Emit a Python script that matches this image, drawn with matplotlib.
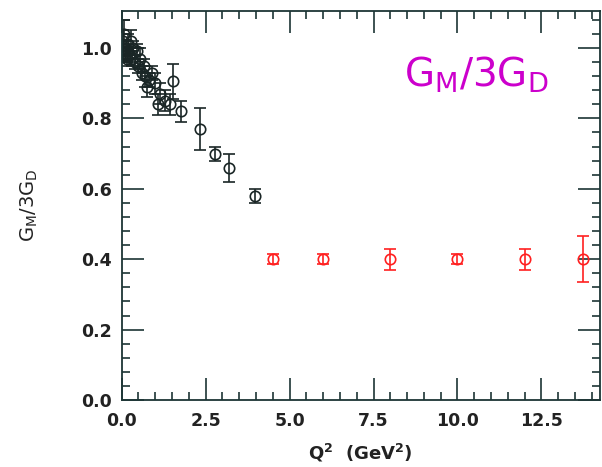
import matplotlib
matplotlib.use("Agg")
import matplotlib.pyplot as plt
from matplotlib.ticker import MultipleLocator, FormatStrFormatter

# Low-Q^2 measurements (black)
q2_low = [0.03, 0.05, 0.07, 0.10, 0.12, 0.15, 0.18, 0.20, 0.25, 0.28, 0.30,
          0.35, 0.40, 0.45, 0.50, 0.55, 0.60, 0.65, 0.70, 0.75, 0.80, 0.90,
          1.00, 1.08, 1.15, 1.30, 1.44, 1.53, 1.78, 2.33, 2.78, 3.20, 3.97]
ratio_low = [0.99, 1.02, 1.04, 0.98, 1.00, 0.97, 1.01, 0.99, 0.98, 1.02, 0.97,
             1.00, 0.96, 0.99, 0.95, 0.97, 0.93, 0.95, 0.92, 0.89, 0.91, 0.93,
             0.90, 0.84, 0.87, 0.85, 0.84, 0.905, 0.82, 0.77, 0.70, 0.66, 0.58]
err_low = [0.02, 0.03, 0.04, 0.02, 0.02, 0.02, 0.03, 0.02, 0.02, 0.03, 0.02,
           0.02, 0.02, 0.02, 0.02, 0.03, 0.02, 0.02, 0.03, 0.03, 0.02, 0.02,
           0.03, 0.03, 0.03, 0.03, 0.03, 0.05, 0.03, 0.06, 0.02, 0.04, 0.02]

# High-Q^2 projection (red)
q2_high = [4.5, 6.0, 8.0, 10.0, 12.0, 13.75]
ratio_high = [0.40, 0.40, 0.40, 0.40, 0.40, 0.40]
err_high = [0.015, 0.015, 0.03, 0.015, 0.03, 0.065]

x_ticks = [0.0, 2.5, 5.0, 7.5, 10.0, 12.5]
y_ticks = [0.0, 0.2, 0.4, 0.6, 0.8, 1.0]

W, H = 602, 467
fig = plt.figure(figsize=(W / 100, H / 100), dpi=100)
left, right, bottom, top = 121.7, 599.5, 400.0, 11.0
ax = fig.add_axes([left / W, 1 - bottom / H, (right - left) / W, (bottom - top) / H])

axis_color = "#1d3535"
ink = "#1a2626"

ax.errorbar(q2_low, ratio_low, yerr=err_low, fmt="o", mfc="none", mec=ink,
            ecolor=ink, ms=7.5, mew=1.2, elinewidth=1.2, capsize=4, capthick=1.2)
ax.errorbar(q2_high, ratio_high, yerr=err_high, fmt="o", mfc="none", mec="#ff2020",
            ecolor="#ff2020", ms=7.5, mew=1.2, elinewidth=1.2, capsize=4, capthick=1.2)

ax.set_xlim(0, 14.23)
ax.set_ylim(0, 1.105)
ax.set_xticks(x_ticks)
ax.set_yticks(y_ticks)
ax.xaxis.set_major_formatter(FormatStrFormatter("%.1f"))
ax.yaxis.set_major_formatter(FormatStrFormatter("%.1f"))
ax.xaxis.set_minor_locator(MultipleLocator(0.5))
ax.yaxis.set_minor_locator(MultipleLocator(0.04))

for s in ax.spines.values():
    s.set_color(axis_color)
    s.set_linewidth(1.3)

ax.tick_params(which="both", direction="in", top=True, right=True,
               color=axis_color, width=1.2)
ax.tick_params(which="major", length=16, labelsize=12.5, labelcolor="#222")
ax.tick_params(axis="x", which="major", pad=9)
ax.tick_params(axis="y", which="major", pad=7)
ax.tick_params(which="minor", length=6)
for lab in ax.get_xticklabels() + ax.get_yticklabels():
    lab.set_fontweight("semibold")

ax.set_xlabel(r"Q$^\mathregular{2}$  (GeV$^\mathregular{2}$)", fontsize=13,
              fontweight="semibold", color="#222", labelpad=8)
ax.set_ylabel(r"$\mathregular{G_M/3G_D}$", fontsize=14, color="#222", labelpad=30)

ax.text(0.59, 0.835, r"$\mathregular{G_M/3G_D}$", transform=ax.transAxes,
        fontsize=28, color="#cc00cc", ha="left", va="center")

fig.savefig("out.png", dpi=100)
